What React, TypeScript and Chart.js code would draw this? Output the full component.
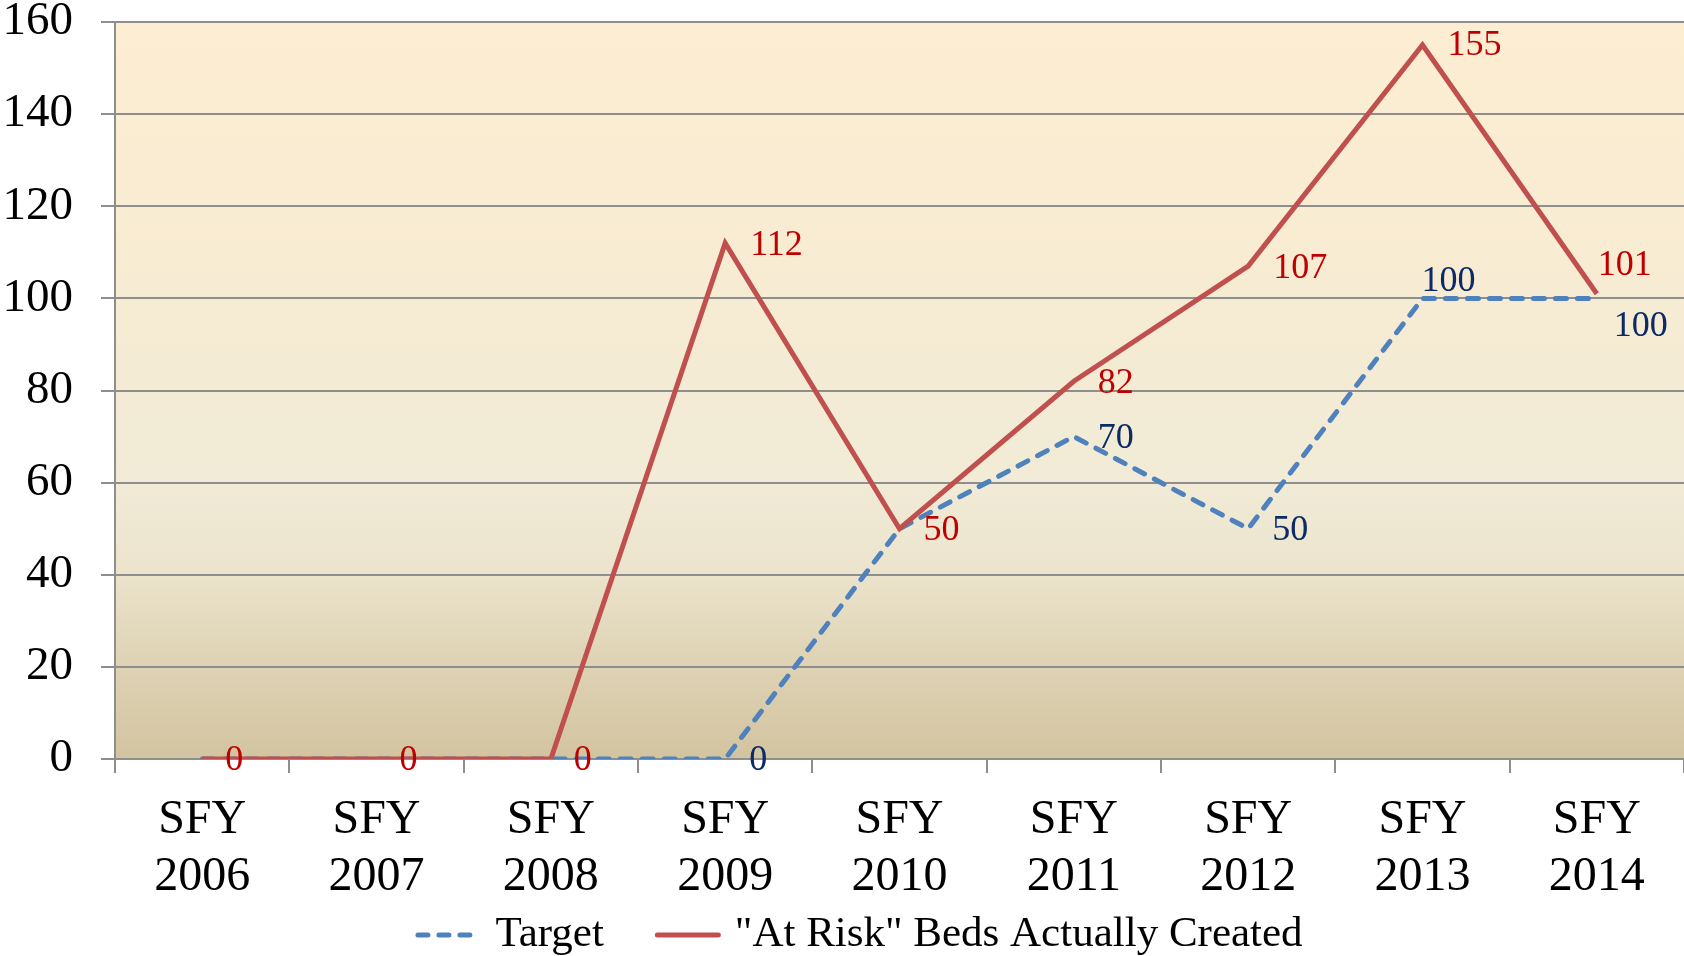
import React, { useEffect, useRef } from 'react';
import { Chart, registerables } from 'chart.js';

Chart.register(...registerables);

const categories: string[][] = [
  ['SFY', '2006'], ['SFY', '2007'], ['SFY', '2008'], ['SFY', '2009'], ['SFY', '2010'],
  ['SFY', '2011'], ['SFY', '2012'], ['SFY', '2013'], ['SFY', '2014'],
];
const targetValues = [0, 0, 0, 0, 50, 70, 50, 100, 100];
const actualValues = [0, 0, 0, 112, 50, 82, 107, 155, 101];
const yMin = 0;
const yMax = 160;
const yStep = 20;
const targetLabel = 'Target';
const actualLabel = '"At Risk" Beds Actually Created';

// label placement styles (offset of label's left edge / vertical centre from the point)
const targetLabelOffsets: ({ dx: number; dy: number } | null)[] = [
  null, null, null, { dx: 24, dy: 2 }, null, { dx: 24, dy: 2 }, { dx: 24, dy: 2 }, { dx: -1, dy: -17 }, { dx: 17, dy: 28 },
];
const actualLabelOffsets: ({ dx: number; dy: number } | null)[] = [
  { dx: 23, dy: 2 }, { dx: 23, dy: 2 }, { dx: 23, dy: 2 }, { dx: 25, dy: 2 }, { dx: 24, dy: 2 },
  { dx: 24, dy: 2 }, { dx: 25, dy: 2 }, { dx: 25, dy: 1 }, { dx: 1, dy: -28 },
];

const SERIF = "'Liberation Serif', 'Times New Roman', serif";
const RED = '#C0504D';
const BLUE = '#4F81BD';
const RED_TEXT = '#C00000';
const BLUE_TEXT = '#0C2A66';
const GRID = '#8E8E8E';

const bgPlugin = {
  id: 'bgGradient',
  beforeDraw(chart: any) {
    const { ctx, chartArea: a } = chart;
    ctx.save();
    ctx.fillStyle = '#ffffff';
    ctx.fillRect(0, 0, chart.width, chart.height);
    const g = ctx.createLinearGradient(0, a.top, 0, a.bottom);
    g.addColorStop(0, '#FDEED2');
    g.addColorStop(0.4, '#F6EBD3');
    g.addColorStop(0.62, '#F1EBD7');
    g.addColorStop(0.74, '#ECE4CD');
    g.addColorStop(0.86, '#DFD4B6');
    g.addColorStop(1, '#D3C4A0');
    ctx.fillStyle = g;
    ctx.fillRect(a.left, a.top, a.right - a.left, a.bottom - a.top);
    ctx.restore();
  },
};

const labelPlugin = {
  id: 'pointLabels',
  afterDatasetsDraw(chart: any) {
    const ctx = chart.ctx;
    const specs = [
      { idx: 0, offsets: targetLabelOffsets, color: BLUE_TEXT },
      { idx: 1, offsets: actualLabelOffsets, color: RED_TEXT },
    ];
    ctx.save();
    ctx.font = `36px ${SERIF}`;
    ctx.textAlign = 'left';
    ctx.textBaseline = 'middle';
    specs.forEach((s) => {
      const meta = chart.getDatasetMeta(s.idx);
      const data = chart.data.datasets[s.idx].data;
      meta.data.forEach((pt: any, i: number) => {
        const o = s.offsets[i];
        if (!o) return;
        ctx.fillStyle = s.color;
        ctx.fillText(String(data[i]), pt.x + o.dx, pt.y + o.dy);
      });
    });
    ctx.restore();
  },
};

const legendPlugin = {
  id: 'customLegend',
  afterDraw(chart: any) {
    const ctx = chart.ctx;
    ctx.save();
    ctx.font = `43px ${SERIF}`;
    ctx.textBaseline = 'middle';
    ctx.textAlign = 'left';
    const y = 935;
    const lineLen = 66;
    const gapText = 14;
    const gapItems = 51;
    const items = [
      { text: targetLabel, color: BLUE, dash: [10, 11] },
      { text: actualLabel, color: RED, dash: [] as number[] },
    ];
    const widths = items.map((it) => lineLen + gapText + ctx.measureText(it.text).width);
    const total = widths.reduce((a, b) => a + b, 0) + gapItems;
    let x = chart.width / 2 + 17 - total / 2;
    items.forEach((it, i) => {
      ctx.strokeStyle = it.color;
      ctx.lineWidth = 5;
      ctx.lineCap = 'round';
      ctx.setLineDash(it.dash);
      ctx.beginPath();
      ctx.moveTo(x + 2.5, y);
      ctx.lineTo(x + lineLen - 2.5, y);
      ctx.stroke();
      ctx.setLineDash([]);
      ctx.fillStyle = '#000000';
      ctx.fillText(it.text, x + lineLen + gapText, y);
      x += widths[i] + gapItems;
    });
    ctx.restore();
  },
};

export default function App() {
  const ref = useRef<HTMLCanvasElement | null>(null);
  useEffect(() => {
    if (!ref.current) return;
    const chart = new Chart(ref.current, {
      type: 'line',
      data: {
        labels: categories,
        datasets: [
          {
            label: targetLabel,
            data: targetValues,
            borderColor: BLUE,
            backgroundColor: BLUE,
            borderWidth: 5,
            borderDash: [11, 11],
            borderCapStyle: 'round',
            borderJoinStyle: 'round',
            pointRadius: 0,
            tension: 0,
            order: 1,
          },
          {
            label: actualLabel,
            data: actualValues,
            borderColor: RED,
            backgroundColor: RED,
            borderWidth: 5,
            borderCapStyle: 'butt',
            borderJoinStyle: 'miter',
            pointRadius: 0,
            tension: 0,
            order: 0,
          },
        ],
      },
      options: {
        responsive: false,
        animation: false,
        layout: { padding: { top: 22, right: 0, bottom: 0, left: 0 } },
        plugins: {
          legend: { display: false },
          tooltip: { enabled: false },
        },
        scales: {
          x: {
            offset: true,
            grid: {
              offset: true,
              drawOnChartArea: false,
              drawTicks: true,
              tickLength: 14,
              color: GRID,
              lineWidth: 2,
            },
            border: { display: true, color: GRID, width: 2 },
            ticks: {
              color: '#000000',
              font: { family: SERIF, size: 48, lineHeight: 1.18 },
              padding: 19,
              maxRotation: 0,
              autoSkip: false,
            },
            afterFit(scale: any) {
              scale.height = 197;
              scale.paddingLeft = 0;
              scale.paddingRight = 0;
            },
          },
          y: {
            min: yMin,
            max: yMax,
            ticks: {
              stepSize: yStep,
              color: '#000000',
              font: { family: SERIF, size: 47, lineHeight: 0.9 },
              padding: 28,
            },
            grid: {
              color: GRID,
              lineWidth: 2,
              drawTicks: true,
              tickLength: 14,
            },
            border: { display: true, color: GRID, width: 2 },
            afterFit(scale: any) {
              scale.width = 115;
              scale.paddingTop = 0;
              scale.paddingBottom = 0;
            },
          },
        },
      },
      plugins: [bgPlugin, labelPlugin, legendPlugin],
    } as any);
    return () => chart.destroy();
  }, []);
  return (
    <div style={{ position: 'fixed', left: 0, top: 0, width: 1684, height: 956, background: '#fff' }}>
      <canvas ref={ref} width={1684} height={956} style={{ display: 'block', width: 1684, height: 956 }} />
    </div>
  );
}
